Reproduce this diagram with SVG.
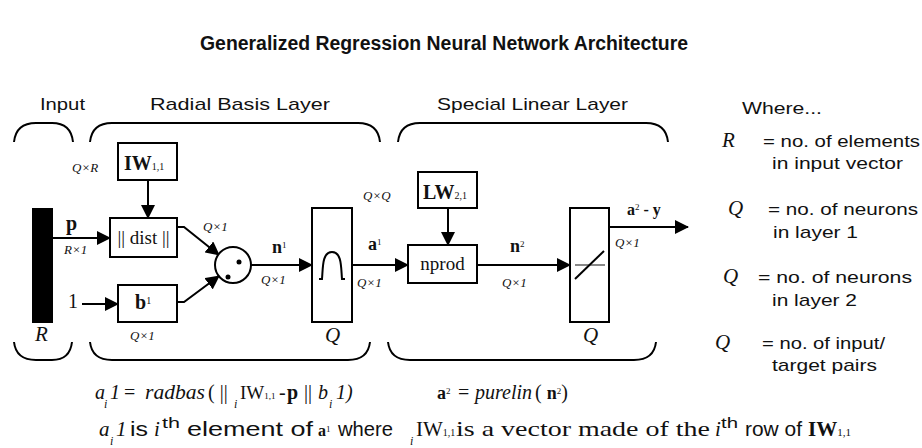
<svg xmlns="http://www.w3.org/2000/svg" width="922" height="448" viewBox="0 0 922 448">
<defs>
<marker id="ah" markerUnits="userSpaceOnUse" markerWidth="14" markerHeight="14" refX="13" refY="7" orient="auto">
<path d="M0,0 L14,7 L0,14 z" fill="#000"/>
</marker>
<style>
.ln{stroke:#000;stroke-width:2;fill:none}
.box{fill:#fff;stroke:#000;stroke-width:2}
.br{stroke:#000;stroke-width:2;fill:none}
.s{font-family:"Liberation Sans",Arial,sans-serif;fill:#111}
.t{font-family:"Liberation Serif","Times New Roman",serif;fill:#111}
.i{font-style:italic}
.b{font-weight:bold}
.dim{font-family:"Liberation Serif","Times New Roman",serif;font-style:italic;font-size:13px;fill:#111}
.q{font-family:"Liberation Serif","Times New Roman",serif;font-style:italic;font-size:21px;fill:#111}
.w{font-family:"Liberation Sans",Arial,sans-serif;font-size:17px;fill:#111}
</style>
</defs>
<rect width="922" height="448" fill="#fff"/>
<text class="s b" x="200" y="50" font-size="20" textLength="488" lengthAdjust="spacingAndGlyphs">Generalized Regression Neural Network Architecture</text>

<g id="labels">
<text class="w" x="40" y="110" textLength="45" lengthAdjust="spacingAndGlyphs">Input</text>
<text class="w" x="150" y="110" textLength="180" lengthAdjust="spacingAndGlyphs">Radial Basis Layer</text>
<text class="w" x="437" y="110" textLength="191" lengthAdjust="spacingAndGlyphs">Special Linear Layer</text>
</g>

<g id="braces">
<path class="br" d="M14,142 Q16,123 36,123 L52,123 Q71,123 73,142"/>
<path class="br" d="M90,142 Q92,123 112,123 L358,123 Q378,123 380,142"/>
<path class="br" d="M398,142 Q400,123 420,123 L646,123 Q666,123 668,142"/>
<path class="br" d="M14,342 Q16,360 36,360 L52,360 Q70,360 72,342"/>
<path class="br" d="M90,342 Q92,360 112,360 L348,360 Q368,360 370,342"/>
<path class="br" d="M388,342 Q390,360 410,360 L634,360 Q654,360 656,342"/>
</g>

<g id="connectors">
<path class="ln" d="M53,238 L110,238" marker-end="url(#ah)"/>
<path class="ln" d="M82,304 L118,304" marker-end="url(#ah)"/>
<path class="ln" d="M148,180 L148,218" marker-end="url(#ah)"/>
<path class="ln" d="M177,227 L184,227 L219,255" marker-end="url(#ah)"/>
<path class="ln" d="M177,302 L184,302 L219,276" marker-end="url(#ah)"/>
<path class="ln" d="M251,265 L312,265" marker-end="url(#ah)"/>
<path class="ln" d="M352,265 L408,265" marker-end="url(#ah)"/>
<path class="ln" d="M448,208 L448,245" marker-end="url(#ah)"/>
<path class="ln" d="M477,265 L570,265" marker-end="url(#ah)"/>
<path class="ln" d="M609,227 L688,227" marker-end="url(#ah)"/>
</g>

<g id="input">
<rect x="32" y="208" width="21" height="115" fill="#000"/>
<text class="q" x="35" y="341">R</text>
<text class="t b" x="66" y="230" font-size="20">p</text>
<text class="dim" x="64" y="254" font-size="11">R×1</text>
<text class="t" x="68" y="308" font-size="20">1</text>
</g>

<g id="iw">
<rect class="box" x="118" y="143" width="59" height="37"/>
<text class="t b" x="124" y="170" font-size="20">IW<tspan font-size="10" font-weight="normal">1,1</tspan></text>
<text class="dim" x="72" y="172">Q×R</text>
</g>

<g id="dist">
<rect class="box" x="110" y="218" width="67" height="39"/>
<text class="t" x="143.5" y="244" font-size="19" text-anchor="middle">|| dist ||</text>
<text class="dim" x="203" y="231">Q×1</text>
</g>

<g id="bias">
<rect class="box" x="118" y="285" width="59" height="37"/>
<text class="t b" x="135" y="309" font-size="20">b<tspan font-size="10" font-weight="normal" dy="-5">1</tspan></text>
<text class="dim" x="130" y="340">Q×1</text>
</g>

<g id="mult">
<circle cx="233" cy="265" r="18" fill="#fff" stroke="#000" stroke-width="2"/>
<circle cx="228" cy="277" r="2.5" fill="#000"/>
<circle cx="239" cy="262" r="2.5" fill="#000"/>
<text class="t b" x="272" y="253" font-size="18">n<tspan font-size="9" font-weight="normal" dy="-5">1</tspan></text>
<text class="dim" x="261" y="284">Q×1</text>
</g>

<g id="radbas">
<rect class="box" x="312" y="208" width="40" height="114"/>
<path class="ln" d="M319,279 L322,279 C323,268 322,252 332,252 C342,252 341,268 342,279 L345,279"/>
<text class="q" x="325" y="342">Q</text>
<text class="t b" x="368" y="250" font-size="18">a<tspan font-size="9" font-weight="normal" dy="-5">1</tspan></text>
<text class="dim" x="357" y="287">Q×1</text>
</g>

<g id="lw">
<rect class="box" x="418" y="172" width="59" height="36"/>
<text class="t b" x="423" y="199" font-size="20">LW<tspan font-size="10" font-weight="normal">2,1</tspan></text>
<text class="dim" x="363" y="200">Q×Q</text>
</g>

<g id="nprod">
<rect class="box" x="408" y="245" width="69" height="38"/>
<text class="t" x="442.5" y="270" font-size="19" text-anchor="middle">nprod</text>
<text class="t b" x="510" y="252" font-size="18">n<tspan font-size="9" font-weight="normal" dy="-5">2</tspan></text>
<text class="dim" x="502" y="287">Q×1</text>
</g>

<g id="purelin">
<rect class="box" x="570" y="208" width="39" height="114"/>
<path d="M575,265 L605,265" stroke="#888" stroke-width="2"/>
<path class="ln" d="M575,279 L604,251"/>
<text class="q" x="583" y="342">Q</text>
<text class="t b" x="627" y="215" font-size="16">a<tspan font-size="9" font-weight="normal" dy="-5">2</tspan><tspan dy="5"> - y</tspan></text>
<text class="dim" x="615" y="247">Q×1</text>
</g>

<g id="legend">
<text class="w" x="742" y="114" textLength="80" lengthAdjust="spacingAndGlyphs">Where...</text>
<text class="q" x="722" y="147">R</text>
<text class="w" x="763" y="147" textLength="157" lengthAdjust="spacingAndGlyphs">= no. of elements</text>
<text class="w" x="772" y="169" textLength="131" lengthAdjust="spacingAndGlyphs">in input vector</text>
<text class="q" x="728" y="215">Q</text>
<text class="w" x="768" y="215" textLength="150" lengthAdjust="spacingAndGlyphs">= no. of neurons</text>
<text class="w" x="773" y="238" textLength="85" lengthAdjust="spacingAndGlyphs">in layer 1</text>
<text class="q" x="723" y="283">Q</text>
<text class="w" x="758" y="283" textLength="154" lengthAdjust="spacingAndGlyphs">= no. of neurons</text>
<text class="w" x="772" y="306" textLength="85" lengthAdjust="spacingAndGlyphs">in layer 2</text>
<text class="q" x="715" y="349">Q</text>
<text class="w" x="762" y="349" textLength="123" lengthAdjust="spacingAndGlyphs">= no. of input/</text>
<text class="w" x="772" y="371" textLength="105" lengthAdjust="spacingAndGlyphs">target pairs</text>
</g>

<g id="formulas">
<text class="t i" x="95" y="399" font-size="20">a</text>
<text class="t i" x="104" y="408" font-size="12">i</text>
<text class="t i" x="110" y="399" font-size="20">1</text>
<text class="t" x="124" y="399" font-size="20">=</text>
<text class="t i" x="145" y="399" font-size="20" textLength="60" lengthAdjust="spacingAndGlyphs">radbas</text>
<text class="t" x="208" y="399" font-size="20">( ||</text>
<text class="t i" x="234" y="408" font-size="12">i</text>
<text class="t" x="240" y="399" font-size="19">IW<tspan font-size="9">1,1</tspan></text>
<text class="t" x="279" y="399" font-size="20">-</text>
<text class="t b" x="287" y="399" font-size="20">p</text>
<text class="t" x="304" y="399" font-size="20">||</text>
<text class="t i" x="318" y="399" font-size="20">b</text>
<text class="t i" x="329" y="408" font-size="12">i</text>
<text class="t i" x="336" y="399" font-size="20">1)</text>
<text class="t b" x="437" y="399" font-size="18">a<tspan font-size="9" font-weight="normal" dy="-5">2</tspan></text>
<text class="t" x="458" y="399" font-size="20">=</text>
<text class="t i" x="475" y="399" font-size="20">purelin</text>
<text class="t" x="535" y="399" font-size="20">( <tspan font-weight="bold" font-size="18">n</tspan><tspan font-size="9" dy="-5">2</tspan><tspan dy="5">)</tspan></text>

<text class="t i" x="99" y="436" font-size="21">a</text>
<text class="t i" x="110" y="445" font-size="12">i</text>
<text class="t i" x="116" y="436" font-size="21">1</text>
<text class="s" x="130" y="436" font-size="20" textLength="18" lengthAdjust="spacingAndGlyphs">is</text>
<text class="t i" x="154" y="436" font-size="21">i</text>
<text class="s" x="162" y="428" font-size="14" textLength="18" lengthAdjust="spacingAndGlyphs">th</text>
<text class="s" x="187" y="436" font-size="20" textLength="126" lengthAdjust="spacingAndGlyphs">element of</text>
<text class="t b" x="318" y="436" font-size="16">a<tspan font-size="9" font-weight="normal" dy="-4">1</tspan></text>
<text class="s" x="338" y="436" font-size="20" textLength="55" lengthAdjust="spacingAndGlyphs">where</text>
<text class="t i" x="410" y="445" font-size="12">i</text>
<text class="t" x="416" y="436" font-size="21">IW<tspan font-size="10">1,1</tspan></text>
<text class="t" x="456" y="436" font-size="22" textLength="254" lengthAdjust="spacingAndGlyphs">is a vector made of the</text>
<text class="t i" x="715" y="436" font-size="21">i</text>
<text class="s" x="721" y="428" font-size="14" textLength="17" lengthAdjust="spacingAndGlyphs">th</text>
<text class="s" x="745" y="436" font-size="20" textLength="57" lengthAdjust="spacingAndGlyphs">row of</text>
<text class="t b" x="808" y="436" font-size="21">IW<tspan font-size="11" font-weight="normal">1,1</tspan></text>
</g>
</svg>
